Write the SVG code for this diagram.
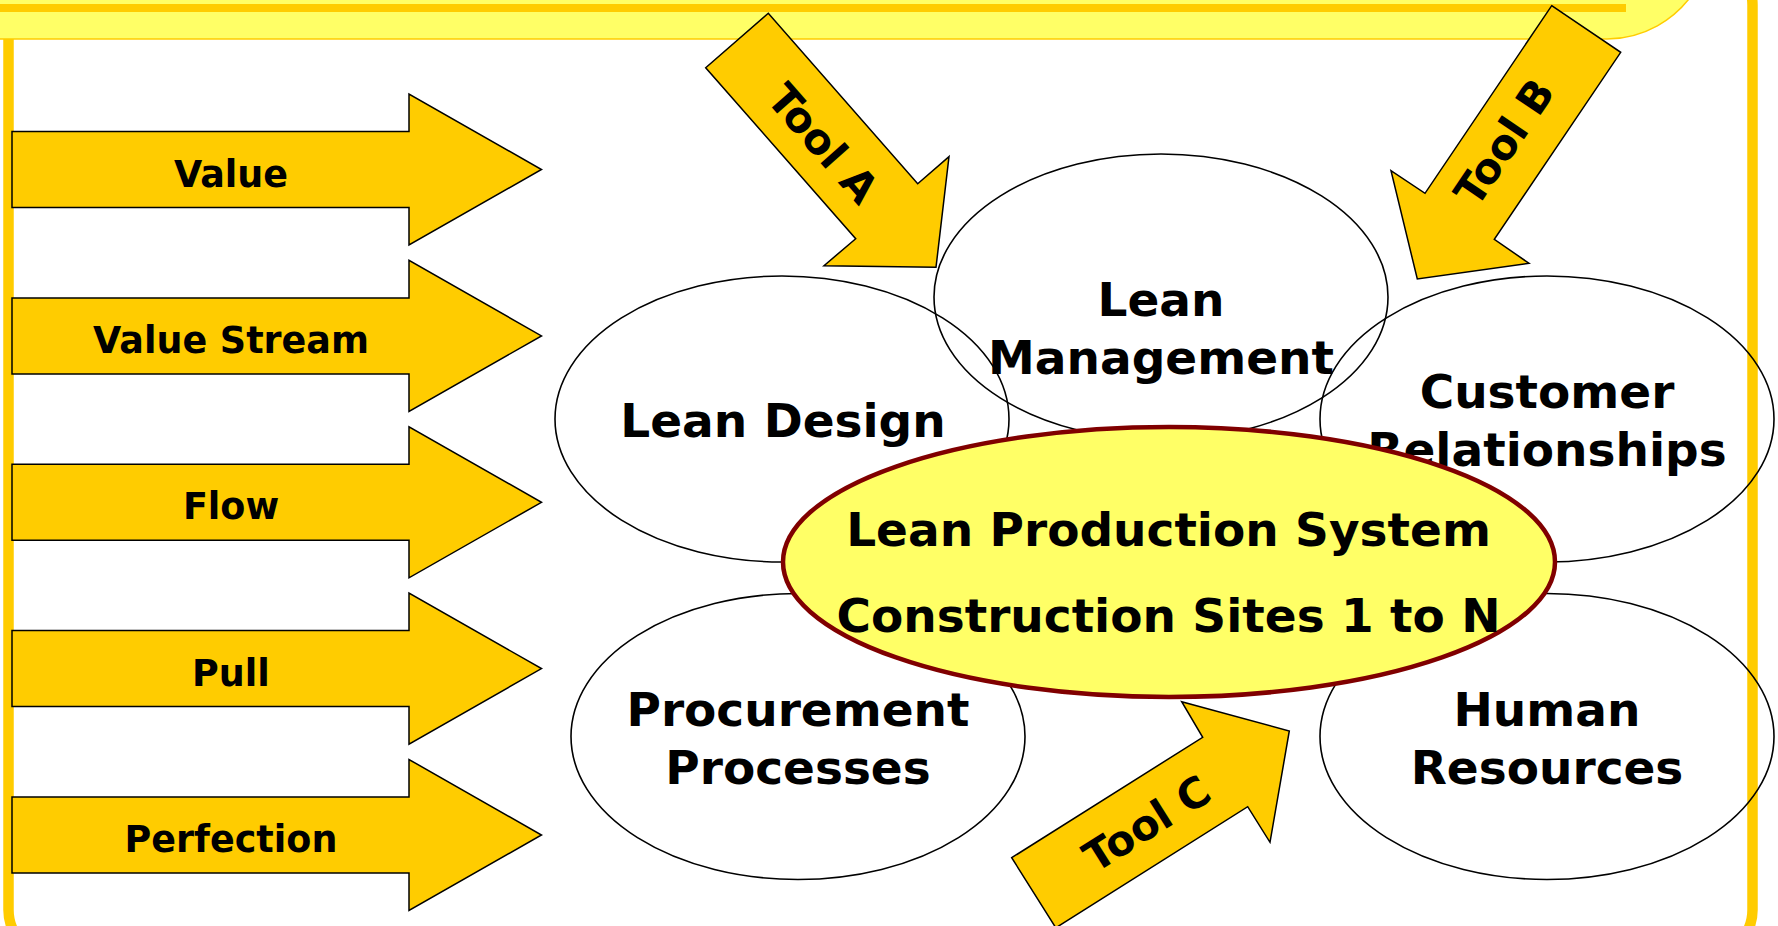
<svg xmlns="http://www.w3.org/2000/svg" xmlns:xlink="http://www.w3.org/1999/xlink" width="1778" height="926" viewBox="0 0 1778 926">
  <style>
    .arrow { fill: #FFCC00; stroke: #000; stroke-width: 1.5; stroke-linejoin: miter; }
    .lbl { font-family: "DejaVu Sans", Verdana, sans-serif; font-weight: bold; fill: #000; text-anchor: middle; }
    .alb { font-size: 36.5px; }
    .elb { font-size: 47px; }
    .tlb { font-size: 42px; }
    .oval { fill: none; stroke: #000; stroke-width: 1.6; }
  </style>
  <defs>
    <path id="bigArrow" d="M12,-38 L409,-38 L409,-75.5 L541.5,0 L409,75.5 L409,38 L12,38 Z"/>
  </defs>
  <rect width="1778" height="926" fill="#fff"/>
  <g id="frame">
    <rect x="8.5" y="-40" width="1744" height="995" rx="45" fill="none" stroke="#FFCC00" stroke-width="10.5"/>
  </g>
  <g id="title-band">
    <path d="M-10,-10 L1695.2,-10 A105,105 0 0 1 1607,39 L-10,39 Z" fill="#FFFF66" stroke="#FFCC00" stroke-width="1.5"/>
    <rect x="0" y="4" width="1626" height="8" fill="#FFCC00"/>
  </g>

  <g id="principles">
    <g id="p-value" transform="translate(0,169.5)">
      <use href="#bigArrow" class="arrow"/>
      <text class="lbl alb" x="231" y="17">Value</text>
    </g>
    <g id="p-value-stream" transform="translate(0,335.9)">
      <use href="#bigArrow" class="arrow"/>
      <text class="lbl alb" x="231" y="17">Value Stream</text>
    </g>
    <g id="p-flow" transform="translate(0,502.3)">
      <use href="#bigArrow" class="arrow"/>
      <text class="lbl alb" x="231" y="17">Flow</text>
    </g>
    <g id="p-pull" transform="translate(0,668.6)">
      <use href="#bigArrow" class="arrow"/>
      <text class="lbl alb" x="231" y="17">Pull</text>
    </g>
    <g id="p-perfection" transform="translate(0,835)">
      <use href="#bigArrow" class="arrow"/>
      <text class="lbl alb" x="231" y="17">Perfection</text>
    </g>
  </g>

  <g id="lean-design">
    <ellipse class="oval" cx="782" cy="419" rx="227" ry="143"/>
    <text class="lbl elb" x="783" y="437">Lean Design</text>
  </g>
  <g id="customer-relationships">
    <ellipse class="oval" cx="1547" cy="419" rx="227" ry="143"/>
    <text class="lbl elb" x="1547" y="408">Customer</text>
    <text class="lbl elb" x="1547" y="466">Relationships</text>
  </g>
  <g id="lean-management">
    <ellipse class="oval" cx="1161" cy="297" rx="227" ry="143"/>
    <text class="lbl elb" x="1161" y="316">Lean</text>
    <text class="lbl elb" x="1161" y="374">Management</text>
  </g>
  <g id="procurement-processes">
    <ellipse class="oval" cx="798" cy="736.5" rx="227" ry="143"/>
    <text class="lbl elb" x="798" y="726">Procurement</text>
    <text class="lbl elb" x="798" y="784">Processes</text>
  </g>
  <g id="human-resources">
    <ellipse class="oval" cx="1547" cy="736.5" rx="227" ry="143"/>
    <text class="lbl elb" x="1547" y="726">Human</text>
    <text class="lbl elb" x="1547" y="784">Resources</text>
  </g>

  <g id="lean-production-system">
    <ellipse cx="1169" cy="562" rx="386" ry="135" fill="#FFFF66" stroke="#800000" stroke-width="4.5"/>
    <text class="lbl elb" x="1168.5" y="546">Lean Production System</text>
    <text class="lbl elb" x="1168.5" y="632">Construction Sites 1 to N</text>
  </g>

  <g id="connectors">
    <g id="tool-a">
      <polygon class="arrow" points="768.3,13.3 705.7,67.7 855.7,238.7 824,265.7 936,267.3 949,156.7 917.7,183.7"/>
      <text class="lbl tlb" x="812" y="153.2" transform="rotate(48.7 812 153.2)">Tool A</text>
    </g>
    <g id="tool-b">
      <polygon class="arrow" points="1551.7,5.7 1620.7,52.3 1494.3,239.3 1529,263.3 1417.3,279 1391,170.7 1425,193.3"/>
      <text class="lbl tlb" x="1516.4" y="150.4" transform="rotate(-55.9 1516.4 150.4)">Tool B</text>
    </g>
    <g id="tool-c">
      <polygon class="arrow" points="1011.7,857.7 1202.7,737.3 1181.7,701.7 1289.3,731 1270,842.3 1247.7,806.7 1055.8,927.8"/>
      <text class="lbl tlb" x="1154.7" y="836" transform="rotate(-32.2 1154.7 836)">Tool C</text>
    </g>
  </g>
</svg>
